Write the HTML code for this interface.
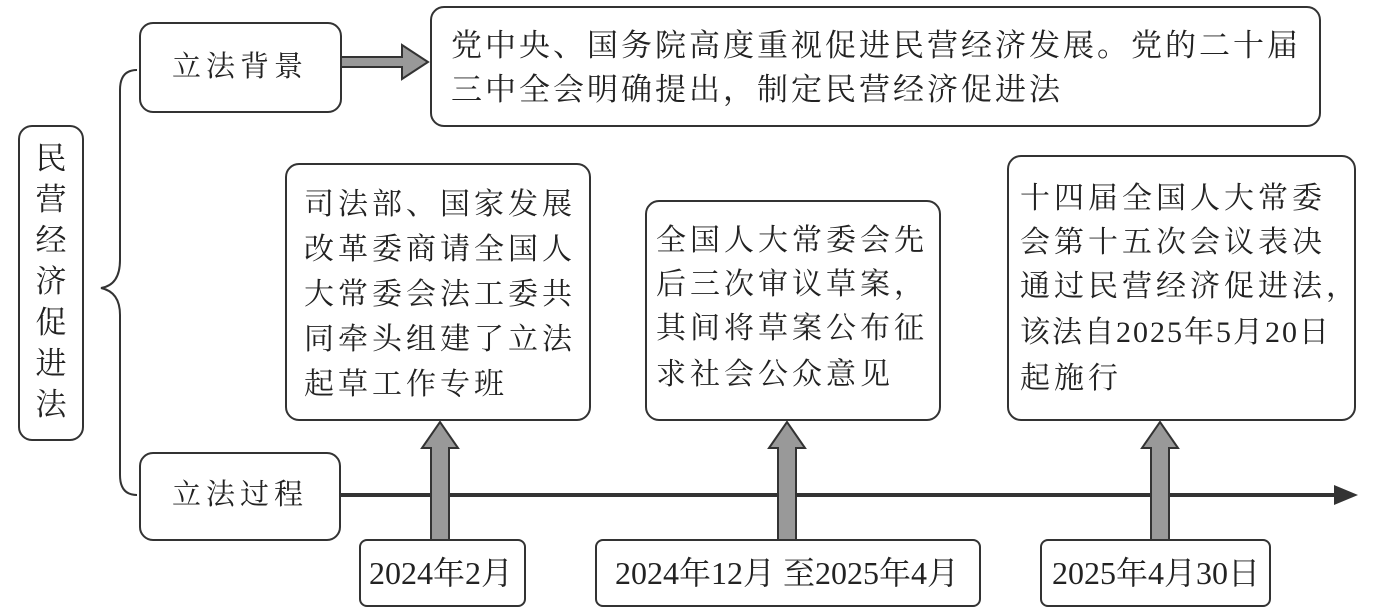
<!DOCTYPE html>
<html><head><meta charset="utf-8"><style>
body{margin:0;width:1373px;height:616px;background:#fff;position:relative;overflow:hidden;font-family:"Liberation Serif","Noto Serif CJK SC",serif;color:#222}
.b{position:absolute;border:2px solid #333;border-radius:14px;box-sizing:border-box;background:#fff}
.t{position:absolute;font-size:30px;letter-spacing:4px;white-space:nowrap;line-height:1}
.d{position:absolute;font-size:32px;white-space:nowrap;line-height:1;letter-spacing:0}
</style></head><body>
<svg width="1373" height="616" style="position:absolute;left:0;top:0">
<path d="M137 70 Q120 70 120 90 L120 260 Q120 285 101 288 Q120 292 120 315 L120 475 Q120 495 137 495" fill="none" stroke="#333" stroke-width="2"/>
<line x1="340" y1="495" x2="1340" y2="495" stroke="#333" stroke-width="4"/>
<polygon points="1358,495 1334,485 1334,505" fill="#333"/>
<polygon points="341,57 402,57 402,45 428,62 402,79 402,67 341,67" fill="#999" stroke="#333" stroke-width="2"/>
<g fill="#999" stroke="#333" stroke-width="2">
<polygon points="431,540 431,448 422,448 440,422 458,448 449,448 449,540"/>
<polygon points="778,540 778,448 769,448 787,422 805,448 796,448 796,540"/>
<polygon points="1151,540 1151,448 1142,448 1160,422 1178,448 1169,448 1169,540"/>
</g>
</svg>
<div class="b" style="left:18px;top:125px;width:66px;height:316px"></div>
<div style="position:absolute;left:33px;top:138px;width:36px;font-size:31px;line-height:41px;text-align:center">民<br>营<br>经<br>济<br>促<br>进<br>法</div>
<div class="b" style="left:139px;top:22px;width:203px;height:91px"></div>
<div class="t" style="left:172px;top:53px;font-size:29px;letter-spacing:5px">立法背景</div>
<div class="b" style="left:139px;top:452px;width:202px;height:89px"></div>
<div class="t" style="left:172px;top:481px;font-size:29px;letter-spacing:5px">立法过程</div>
<div class="b" style="left:430px;top:6px;width:891px;height:121px"></div>
<div class="t" style="left:451px;top:30px;font-size:31px;letter-spacing:3px">党中央、国务院高度重视促进民营经济发展。党的二十届</div>
<div class="t" style="left:451px;top:74px;font-size:31px;letter-spacing:3px">三中全会明确提出，制定民营经济促进法</div>
<div class="b" style="left:285px;top:163px;width:306px;height:258px"></div>
<div class="t" style="left:304px;top:190px">司法部、国家发展</div>
<div class="t" style="left:304px;top:235px">改革委商请全国人</div>
<div class="t" style="left:304px;top:280px">大常委会法工委共</div>
<div class="t" style="left:304px;top:325px">同牵头组建了立法</div>
<div class="t" style="left:304px;top:370px">起草工作专班</div>
<div class="b" style="left:645px;top:200px;width:296px;height:221px"></div>
<div class="t" style="left:656px;top:226px">全国人大常委会先</div>
<div class="t" style="left:656px;top:270px">后三次审议草案，</div>
<div class="t" style="left:656px;top:314px">其间将草案公布征</div>
<div class="t" style="left:656px;top:360px">求社会公众意见</div>
<div class="b" style="left:1007px;top:155px;width:349px;height:266px"></div>
<div class="t" style="left:1020px;top:184px">十四届全国人大常委</div>
<div class="t" style="left:1020px;top:228px">会第十五次会议表决</div>
<div class="t" style="left:1020px;top:272px">通过民营经济促进法，</div>
<div class="t" style="left:1020px;top:318px;letter-spacing:2px">该法自2025年5月20日</div>
<div class="t" style="left:1020px;top:364px">起施行</div>
<div class="b" style="left:359px;top:539px;width:167px;height:68px;border-radius:8px"></div>
<div class="d" style="left:369px;top:557px">2024年2月</div>
<div class="b" style="left:595px;top:539px;width:386px;height:68px;border-radius:8px"></div>
<div class="d" style="left:615px;top:557px">2024年12月 至2025年4月</div>
<div class="b" style="left:1040px;top:539px;width:231px;height:68px;border-radius:8px"></div>
<div class="d" style="left:1052px;top:557px">2025年4月30日</div>
</body></html>
